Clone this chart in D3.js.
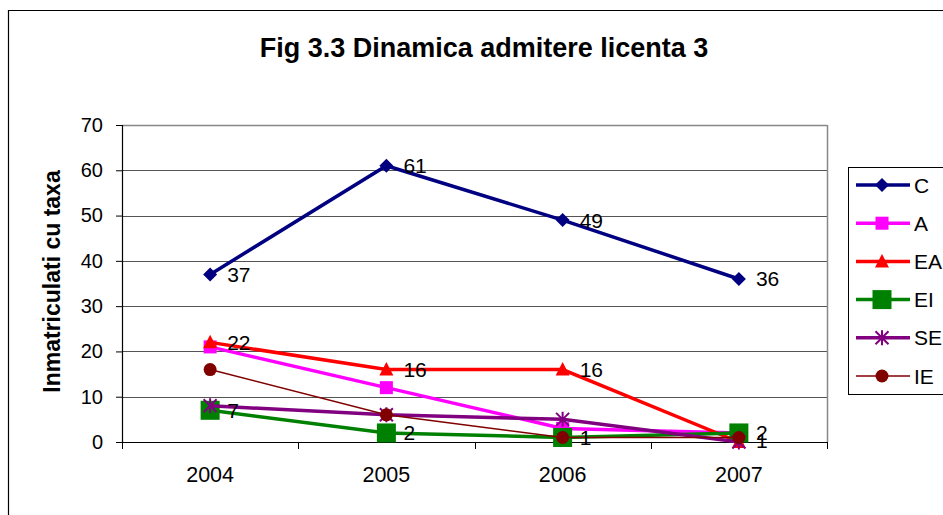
<!DOCTYPE html>
<html><head><meta charset="utf-8">
<script src="https://cdn.jsdelivr.net/npm/d3@7"></script>
<style>body{margin:0;background:#fff}svg{display:block;font-family:"Liberation Sans",Arial,sans-serif}</style>
</head><body>
<svg id="c" width="943" height="515"></svg>
<script>
const title = "Fig 3.3 Dinamica admitere licenta 3";
const yTitle = "Inmatriculati cu taxa";
const years = ["2004", "2005", "2006", "2007"];
const yTicks = [0, 10, 20, 30, 40, 50, 60, 70];
const seriesNames = ["C", "A", "EA", "EI", "SE", "IE"];
const valC  = [37, 61, 49, 36];
const valA  = [21, 12, 3, 2];
const valEA = [22, 16, 16, 0];
const valEI = [7, 2, 1, 2];
const valSE = [8, 6, 5, 0];
const valIE = [16, 6, 1, 1];
// data labels shown in the reference (null = none)
const lblC  = [37, 61, 49, 36];
const lblA  = [null, null, null, null];
const lblEA = [22, 16, 16, null];
const lblEI = [7, 2, 1, 2];
const lblSE = [null, null, null, null];
const lblIE = [null, null, null, 1];
const colors = ["#000080", "#FF00FF", "#FF0000", "#008000", "#800080", "#800000"];
const markers = ["diamond", "square", "triangle", "bigsquare", "star", "circle"];
const widths = [3.5, 3.5, 3.5, 3.5, 3.5, 1.5];

const series = seriesNames.map((n, i) => ({
  name: n,
  values: [valC, valA, valEA, valEI, valSE, valIE][i],
  labels: [lblC, lblA, lblEA, lblEI, lblSE, lblIE][i],
  color: colors[i], marker: markers[i], width: widths[i]
}));

const svg = d3.select("#c");
const L = 122, R = 827, T = 125, B = 442;
const FONT = "Liberation Sans, Arial, sans-serif";

// outer frame
svg.append("path").attr("d", "M8.5,515 V10.5 H943").attr("fill", "none").attr("stroke", "#000").attr("stroke-width", 1.2);

svg.append("text").attr("x", 484).attr("y", 57).attr("text-anchor", "middle")
  .attr("font-size", 27).attr("font-weight", "bold").text(title);

const x = d3.scaleBand().domain(years).range([L, R]);
const y = d3.scaleLinear().domain([0, 70]).range([B, T]);

// gridlines
svg.append("g").selectAll("line").data(yTicks.filter(t => t > 0)).join("line")
  .attr("x1", L).attr("x2", R).attr("y1", d => Math.round(y(d)) + 0.5).attr("y2", d => Math.round(y(d)) + 0.5)
  .attr("stroke", "#555").attr("stroke-width", 1);
// plot border right & top
svg.append("line").attr("x1", R + 0.5).attr("x2", R + 0.5).attr("y1", T).attr("y2", B).attr("stroke", "#888").attr("stroke-width", 1.5);
svg.append("line").attr("x1", L).attr("x2", R).attr("y1", T + 0.5).attr("y2", T + 0.5).attr("stroke", "#888").attr("stroke-width", 1.5);

// y axis
const yAxis = svg.append("g").attr("transform", `translate(${L},0)`)
  .call(d3.axisLeft(y).tickValues(yTicks).tickSize(6).tickPadding(13));
yAxis.select(".domain").attr("stroke", "#000").attr("stroke-width", 1.2);
yAxis.selectAll(".tick line").attr("stroke", "#000");
yAxis.selectAll("text").attr("font-size", 20).attr("fill", "#000").attr("font-family", FONT);

// x axis
const xAxis = svg.append("g").attr("transform", `translate(0,${B})`)
  .call(d3.axisBottom(x).tickSize(0).tickPadding(25));
xAxis.select(".domain").attr("stroke", "#000").attr("stroke-width", 1.2);
xAxis.selectAll("text").attr("font-size", 21.5).attr("fill", "#000").attr("font-family", FONT);
// category boundary ticks
const bounds = years.map(d => x(d)).concat([R]);
svg.append("g").selectAll("line").data(bounds).join("line")
  .attr("x1", d => Math.round(d) + 0.5).attr("x2", d => Math.round(d) + 0.5)
  .attr("y1", B).attr("y2", B + 7).attr("stroke", "#000");

svg.append("text").attr("transform", `translate(60,${(T + B) / 2 - 2}) rotate(-90)`)
  .attr("text-anchor", "middle").attr("font-size", 23).attr("font-weight", "bold").text(yTitle);

function drawMarker(g, type, color, cx, cy) {
  if (type === "diamond") {
    g.append("path").attr("d", `M${cx},${cy - 7}L${cx + 7},${cy}L${cx},${cy + 7}L${cx - 7},${cy}Z`).attr("fill", color);
  } else if (type === "square") {
    g.append("rect").attr("x", cx - 6.5).attr("y", cy - 6.5).attr("width", 13).attr("height", 13).attr("fill", color);
  } else if (type === "bigsquare") {
    g.append("rect").attr("x", cx - 9.5).attr("y", cy - 9.5).attr("width", 19).attr("height", 19).attr("fill", color);
  } else if (type === "triangle") {
    g.append("path").attr("d", `M${cx},${cy - 7.5}L${cx + 7},${cy + 6}L${cx - 7},${cy + 6}Z`).attr("fill", color);
  } else if (type === "star") {
    const s = 6.5;
    g.append("path").attr("d", `M${cx - s},${cy - s}L${cx + s},${cy + s}M${cx + s},${cy - s}L${cx - s},${cy + s}M${cx},${cy - s - 1}L${cx},${cy + s + 1}`)
      .attr("stroke", color).attr("stroke-width", 2).attr("fill", "none");
  } else if (type === "circle") {
    g.append("circle").attr("cx", cx).attr("cy", cy).attr("r", 6.5).attr("fill", color);
  }
}

const line = d3.line().x((d, i) => x(years[i]) + x.bandwidth() / 2).y(d => y(d));
series.forEach(s => {
  const g = svg.append("g");
  g.append("path").attr("d", line(s.values)).attr("fill", "none").attr("stroke", s.color).attr("stroke-width", s.width);
  s.values.forEach((v, i) => drawMarker(g, s.marker, s.color, x(years[i]) + x.bandwidth() / 2, y(v)));
});
// data labels
series.forEach(s => {
  s.labels.forEach((l, i) => {
    if (l === null) return;
    svg.append("text").attr("x", x(years[i]) + x.bandwidth() / 2 + 17).attr("y", y(s.values[i]) + 7.5 + (s.name === "IE" ? 3 : 0))
      .attr("font-size", 21).attr("fill", "#000").text(l);
  });
});

// legend
svg.append("rect").attr("x", 848.5).attr("y", 167.5).attr("width", 110).attr("height", 227)
  .attr("fill", "#fff").attr("stroke", "#000").attr("stroke-width", 1);
series.forEach((s, i) => {
  const cy = 185 + i * 38.2;
  const g = svg.append("g");
  g.append("line").attr("x1", 856).attr("x2", 910).attr("y1", cy).attr("y2", cy).attr("stroke", s.color).attr("stroke-width", s.width);
  drawMarker(g, s.marker, s.color, 882, cy);
  svg.append("text").attr("x", 914).attr("y", cy + 7.5).attr("font-size", 21).text(s.name);
});
</script>
</body></html>
